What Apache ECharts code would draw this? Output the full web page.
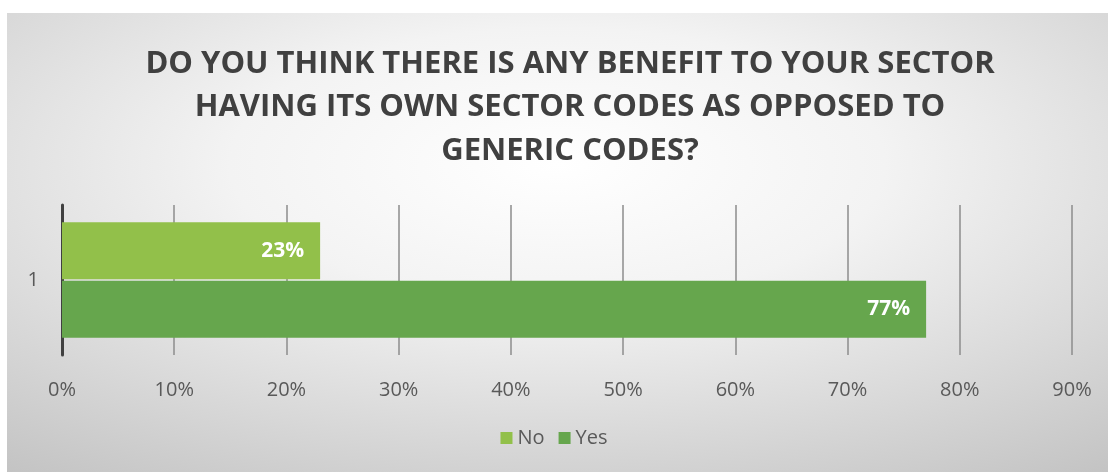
<!DOCTYPE html>
<html>
<head>
<meta charset="utf-8">
<style>
  html, body { margin: 0; padding: 0; background: #ffffff; }
  #chart { width: 1108px; height: 472px; }
</style>
<script src="https://cdn.jsdelivr.net/npm/echarts@6/dist/echarts.min.js"></script>
</head>
<body>
<div id="chart"></div>
<script>
// Survey answers, share of respondents (%)
const categories = ['1'];
const noValues = [23];
const yesValues = [77];
const tickMax = 90;
const tickStep = 10;
const titleText = 'DO YOU THINK THERE IS ANY BENEFIT TO YOUR SECTOR\nHAVING ITS OWN SECTOR CODES AS OPPOSED TO\nGENERIC CODES?';

const chart = echarts.init(document.getElementById('chart'));
const fontFamily = '"Open Sans", "Noto Sans", sans-serif';

// Panel background: square rect stretched horizontally so the radial fill becomes an ellipse
const panelW = 1101, panelH = 459;

const barLabel = {
  show: true,
  position: 'insideRight',
  distance: 16,
  formatter: '{c}%',
  fontFamily: fontFamily,
  fontWeight: 'bold',
  fontSize: 21,
  color: '#ffffff'
};

chart.setOption({
  backgroundColor: '#ffffff',
  graphic: [{
    type: 'rect',
    z: -10,
    silent: true,
    x: 7,
    y: 13,
    scaleX: panelW / panelH,
    shape: { x: 0, y: 0, width: panelH, height: panelH },
    style: {
      fill: {
        type: 'radial', x: 0.5, y: 0.33, r: 0.85,
        colorStops: [
          { offset: 0, color: '#ffffff' },
          { offset: 0.35, color: '#f3f3f3' },
          { offset: 1, color: '#c2c2c2' }
        ]
      }
    }
  }],
  title: {
    text: titleText,
    left: 565,
    textAlign: 'center',
    top: 37,
    textStyle: {
      fontFamily: fontFamily,
      fontWeight: 'bold',
      fontSize: 31,
      lineHeight: 43.5,
      color: '#404040'
    }
  },
  legend: {
    data: ['No', 'Yes'],
    bottom: 19,
    left: 'center',
    icon: 'rect',
    itemWidth: 12,
    itemHeight: 12,
    itemGap: 14,
    textStyle: { fontFamily: fontFamily, fontSize: 20, color: '#595959' }
  },
  grid: { left: 62, right: 36, top: 205, bottom: 117 },
  xAxis: {
    type: 'value',
    min: 0,
    max: tickMax,
    interval: tickStep,
    axisLine: { show: false },
    axisTick: { show: false },
    axisLabel: {
      formatter: '{value}%',
      margin: 25,
      fontFamily: fontFamily,
      fontSize: 20,
      color: '#595959'
    },
    splitLine: { lineStyle: { color: '#8c8c8c', width: 1.5 } }
  },
  yAxis: {
    type: 'category',
    data: categories,
    inverse: true,
    axisLine: { lineStyle: { color: '#404040', width: 3 } },
    axisTick: { show: false },
    axisLabel: {
      margin: 23,
      fontFamily: fontFamily,
      fontSize: 20,
      color: '#595959'
    }
  },
  series: [
    {
      name: 'No',
      type: 'bar',
      data: noValues,
      barGap: '3%',
      barCategoryGap: '23%',
      itemStyle: { color: '#92c04a' },
      label: barLabel
    },
    {
      name: 'Yes',
      type: 'bar',
      data: yesValues,
      barGap: '3%',
      barCategoryGap: '23%',
      itemStyle: { color: '#66a64d' },
      label: barLabel
    }
  ]
});
</script>
</body>
</html>
